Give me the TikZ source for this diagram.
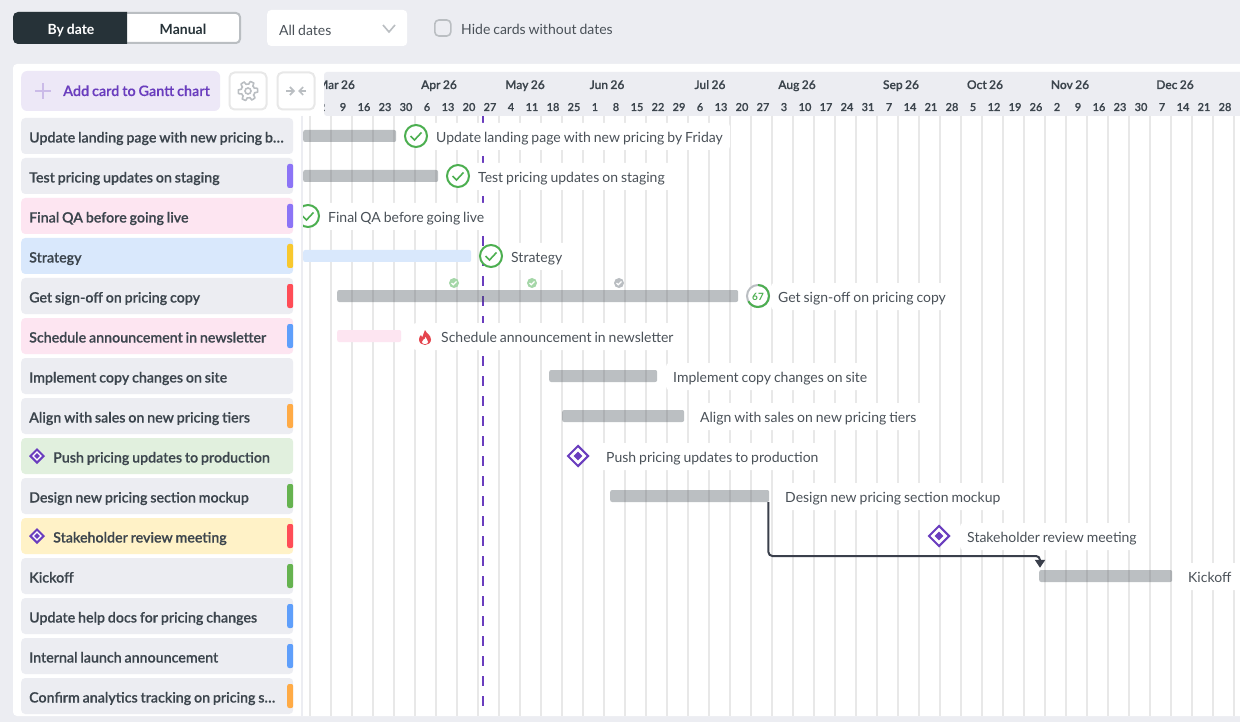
\documentclass[tikz,border=0pt]{standalone}
\usepackage{fontspec}
\setmainfont[WordSpace=0.82]{Lato}
\newfontfamily\semifont[WordSpace=0.8,FakeBold=0.25]{Lato Semibold}
\usetikzlibrary{arrows.meta, positioning, shapes.geometric}
\definecolor{pagebg}{HTML}{ECEDF2}
\definecolor{cardgray}{HTML}{ECEDF2}
\definecolor{cardpink}{HTML}{FDE5F1}
\definecolor{cardblue}{HTML}{D9E8FC}
\definecolor{cardgreen}{HTML}{E1F0DE}
\definecolor{cardyellow}{HTML}{FFF2C7}
\definecolor{tabpurple}{HTML}{8C74F6}
\definecolor{tabyellow}{HTML}{F8C82E}
\definecolor{tabred}{HTML}{FF4D57}
\definecolor{tabblue}{HTML}{5F9FFB}
\definecolor{taborange}{HTML}{FFAB46}
\definecolor{tabgreen}{HTML}{66B350}
\definecolor{inkdark}{HTML}{263238}
\definecolor{inktext}{HTML}{3C454D}
\definecolor{inklabel}{HTML}{4A5158}
\definecolor{gridline}{HTML}{E8E8E8}
\definecolor{barbase}{HTML}{3F4A52}
\definecolor{accent}{HTML}{6A3DBE}
\definecolor{okgreen}{HTML}{4CAF50}
\definecolor{softgray}{HTML}{BABEC2}
\definecolor{linkdark}{HTML}{3A3F4B}

\begin{document}
\begin{tikzpicture}[
        x=1pt,y=-1pt,
        card/.style={anchor=west,rounded corners=4pt,minimum width=272pt,minimum height=36pt,inner xsep=8pt,inner ysep=0pt,
          text height=15pt,text depth=2pt,font=\fontsize{14.2}{14}\semifont,text=inktext},
        tab/.style={anchor=east,rounded corners=2pt,minimum width=6pt,minimum height=24pt,inner sep=0pt},
        taskbar/.style={anchor=west,rounded corners=2pt,minimum height=12pt,inner sep=0pt},
        grayfill/.style={fill=barbase,fill opacity=.35},
        tasklabel/.style={anchor=west,fill=white,rounded corners=3pt,minimum height=27pt,inner xsep=7pt,inner ysep=0pt,
          text height=14pt,text depth=2pt,font=\fontsize{14}{14}\selectfont,text=inklabel},
        donering/.style={circle,draw=okgreen,line width=2pt,fill=white,minimum size=22pt,inner sep=0pt},
        milestone/.style={diamond,draw=accent,line width=2pt,fill=white,aspect=1,minimum size=#1,inner sep=0pt},
        milecore/.style={diamond,fill=accent,aspect=1,minimum size=#1,inner sep=0pt},
        pill/.style={rounded corners=4pt,inner sep=0pt},
        iconbox/.style={draw=gridline,line width=2pt,fill=white,rounded corners=5pt,minimum size=37pt,inner sep=0pt},
        dayno/.style={anchor=base,font=\fontsize{11}{11}\semifont,text=inktext},
        monthno/.style={anchor=base,font=\fontsize{12}{12}\semifont,text=inktext},
        ]
        \useasboundingbox (0,0) rectangle (1240,722);
        \fill[pagebg] (0,0) rectangle (1240,722);

        % toolbar
        \node[pill,draw=softgray,line width=2pt,fill=white,minimum width=225pt,minimum height=30pt,anchor=west] (toggle) at (14,28) {};
        \fill[inkdark] [sharp corners] (127,12) -- (127,44) [rounded corners=5pt] -- (13,44) -- (13,12) [sharp corners] -- cycle;
        \node[anchor=base,text=white,font=\fontsize{14}{14}\selectfont\bfseries] (bydate) at (71,35) {By date};
        \node[anchor=base,text=inkdark,font=\fontsize{14}{14}\selectfont\bfseries] (manual) at (183,35) {Manual};
        \node[pill,fill=white,minimum width=140pt,minimum height=36pt,anchor=west] (datesel) at (267,28) {};
        \node[anchor=base west,inner sep=0pt,text=inklabel,font=\fontsize{14}{14}\selectfont] (datetxt) at (279,36) {All dates};
        \draw[softgray,line width=1.6pt] (383,25) -- (389,32) -- (395,25);
        \node[pill,draw=softgray,line width=1.6pt,fill=pagebg,minimum size=16pt,anchor=west] (hidebox) at (434,28) {};
        \node[anchor=base west,inner sep=0pt,text=inklabel,font=\fontsize{14}{14}\selectfont] (hidetxt) at (461,35) {Hide cards without dates};

        % panel
        \fill[white,rounded corners=4pt] (13,64) rectangle (1250,716);

        % buttons
        \node[pill,fill=accent!12,minimum width=199pt,minimum height=40pt,anchor=west,rounded corners=6pt] (addbtn) at (21,91) {};
        \draw[accent!35,line width=2pt] (35,91) -- (51,91) (43,83) -- (43,99);
        \node[anchor=base west,inner sep=0pt,text=accent,font=\fontsize{14.4}{14}\semifont] (addtxt) at (63,96) {Add card to Gantt chart};
        \node[iconbox] (gearbtn) at (248,91) {};
        \draw[softgray,line width=1.6pt] plot[domain=0:360,samples=121,smooth cycle]
          ({248+cos(\x)*(8.3+1.4*max(min(2.5*cos(6*\x+30),1),-1))},{91+sin(\x)*(8.3+1.4*max(min(2.5*cos(6*\x+30),1),-1))});
        \node[circle,draw=softgray,line width=1.6pt,minimum size=6pt,inner sep=0pt] (gearhub) at (248,91) {};
        \node[iconbox] (foldbtn) at (296,91) {};
        \draw[softgray,line width=1.6pt,-{Straight Barb[length=4pt,width=8pt]}] (286,91) -- (295,91);
        \draw[softgray,line width=1.6pt,-{Straight Barb[length=4pt,width=8pt]}] (306,91) -- (298,91);

        % cards
        \foreach \cardfill/\tabfill/\cardgap/\cardtxt [count=\r from 0] in {
          cardgray/none/0/Update landing page with new pricing b…,
          cardgray/tabpurple/0/Test pricing updates on staging,
          cardpink/tabpurple/0/Final QA before going live,
          cardblue/tabyellow/0/Strategy,
          cardgray/tabred/0/Get sign-off on pricing copy,
          cardpink/tabblue/0/Schedule announcement in newsletter,
          cardgray/none/0/Implement copy changes on site,
          cardgray/taborange/0/Align with sales on new pricing tiers,
          cardgreen/none/24/Push pricing updates to production,
          cardgray/tabgreen/0/Design new pricing section mockup,
          cardyellow/tabred/24/Stakeholder review meeting,
          cardgray/tabgreen/0/Kickoff,
          cardgray/tabblue/0/Update help docs for pricing changes,
          cardgray/tabblue/0/Internal launch announcement,
          cardgray/taborange/0/Confirm analytics tracking on pricing s…}{
          \node[card,fill=\cardfill] (card\r) at (21,{136+40*\r}) {\makebox[256pt][l]{\hspace*{\cardgap pt}\cardtxt}};
          \node[tab,fill=\tabfill] (tab\r) at (card\r.east) {};
        }
        \node[milestone=14pt] (cardms8) at (37,456) {};
        \node[milecore=6pt] (cardcore8) at (37,456) {};
        \node[milestone=14pt] (cardms10) at (37,536) {};
        \node[milecore=6pt] (cardcore10) at (37,536) {};

        % timeline head
        \fill[pagebg,rounded corners=3pt] (324,72) rectangle (1250,116);
        \begin{scope}
          \clip (324,72) rectangle (1240,116);
          \foreach \dayl [count=\d from 0] in {2,9,16,23,30,6,13,20,27,4,11,18,25,1,8,15,22,29,6,13,20,27,3,10,17,24,31,7,14,21,28,5,12,19,26,2,9,16,23,30,7,14,21,28}{
            \node[dayno] (day\d) at ({322+21*\d},111) {\dayl};
          }
          \foreach \monx/\monl [count=\m] in {336/Mar,439/Apr,525/May,607/Jun,710/Jul,797/Aug,901/Sep,985/Oct,1070/Nov,1175/Dec}{
            \node[monthno] (mon\m) at (\monx,89) {\monl{} 26};
          }
        \end{scope}

        % week lines
        \draw[pagebg,line width=2pt] (302,116) -- (302,716);
        \foreach \k in {0,...,44}{
          \draw[gridline,line width=2pt] ({310+21*\k},116) -- ({310+21*\k},716);
        }
        \coordinate (todaytop) at (483,116);
        \coordinate (todayend) at (483,716);
        \draw[accent,line width=2pt,dash pattern=on 10pt off 10pt] (todaytop) -- (todayend);

        \begin{scope}
          \clip (303,116) rectangle (1240,716);
          % bars
          \foreach \bn/\bx/\bw/\by in {0/303/93/136,1/303/135/176,4/337/401/296,6/549/108/376,7/562/122/416,9/610/159/496,11/1039/133/576}{
            \node[taskbar,grayfill,minimum width=\bw pt] (bar\bn) at (\bx,\by) {};
          }
          \node[taskbar,fill=cardblue,minimum width=168pt] (bar3) at (303,256) {};
          \node[taskbar,fill=cardpink,minimum width=64pt] (bar5) at (337,336) {};

          % labels
          \foreach \ln/\lx/\ly/\lgap/\ltxt in {0/429/136.5/0/Update landing page with new pricing by Friday,
            1/471/176.5/0/Test pricing updates on staging,
            2/321/216.5/0/Final QA before going live,
            3/504/256.5/0/Strategy,
            4/771/296.5/0/Get sign-off on pricing copy,
            5/413/336.5/21/Schedule announcement in newsletter,
            6/666/376.5/0/Implement copy changes on site,
            7/693/416.5/0/Align with sales on new pricing tiers,
            8/599/456.5/0/Push pricing updates to production,
            9/778/496.5/0/Design new pricing section mockup,
            10/960/536.5/0/Stakeholder review meeting,
            11/1181/576.5/0/Kickoff}{
            \node[tasklabel] (label\ln) at (\lx,\ly) {\hspace*{\lgap pt}\ltxt};
          }

          % done marks
          \foreach \cn/\cx/\cy in {0/416/136,1/458/176,2/308/216,3/491/256}{
            \node[donering] (done\cn) at (\cx,\cy) {};
            \draw[okgreen,line width=1.6pt] ([shift={(-5.5pt,0pt)}]done\cn.center) -- ([shift={(-1.5pt,-4pt)}]done\cn.center) -- ([shift={(5.5pt,3.5pt)}]done\cn.center);
          }
          % progress
          \node[donering,draw=softgray] (prog) at (758,296) {};
          \draw[okgreen,line width=2pt] (758,285) arc[start angle=-90,end angle=151,radius=11];
          \node[text=okgreen,font=\fontsize{10}{10}\selectfont\bfseries,inner sep=0pt] (progtxt) at (758,296.5) {67};
          % subtask dots
          \foreach \sn/\sx/\sfill in {0/454/okgreen!50,1/532/okgreen!50,2/619/softgray}{
            \node[circle,fill=\sfill,minimum size=10pt,inner sep=0pt] (sub\sn) at (\sx,283) {};
            \draw[white,line width=1.2pt] ([shift={(-2.5pt,0pt)}]sub\sn.center) -- ([shift={(-.7pt,-1.8pt)}]sub\sn.center) -- ([shift={(2.5pt,1.5pt)}]sub\sn.center);
          }
          % hot flag
          \fill[tabred!90!black] (425,330) .. controls (426,333) and (431,335) .. (431,339.5) .. controls (431,343) and (428,345) .. (425,345)
            .. controls (422,345) and (419,343) .. (419,339.5) .. controls (419,337.5) and (420,336) .. (421,335) .. controls (421.5,336.5) and (422,337) .. (422.5,337) .. controls (423.5,335) and (423.5,332.5) .. (425,330) -- cycle;
          \fill[white] (425.5,337) .. controls (426,339) and (428,340) .. (428,342) .. controls (428,343.5) and (426.5,344) .. (425,344)
            .. controls (423.5,344) and (422,343.5) .. (422,342) .. controls (422,340.8) and (423,340) .. (423.5,339.5) .. controls (424.5,339.5) and (425.5,338.5) .. (425.5,337) -- cycle;
          % milestones
          \node[milestone=21pt] (ms8) at (578,456) {};
          \node[milecore=9pt] (core8) at (578,456) {};
          \node[milestone=21pt] (ms10) at (939,536) {};
          \node[milecore=9pt] (core10) at (939,536) {};
        \end{scope}

        % dependency
        \coordinate (linkturn) at (1040,556);
        \draw[linkdark,line width=2pt,rounded corners=4pt,-{Stealth[length=8pt,width=10pt,inset=0pt]}]
          ([xshift=-1pt]bar9.south east) |- (linkturn) -- ([xshift=1pt,yshift=2pt]bar11.north west);
      \end{tikzpicture}
\end{document}
